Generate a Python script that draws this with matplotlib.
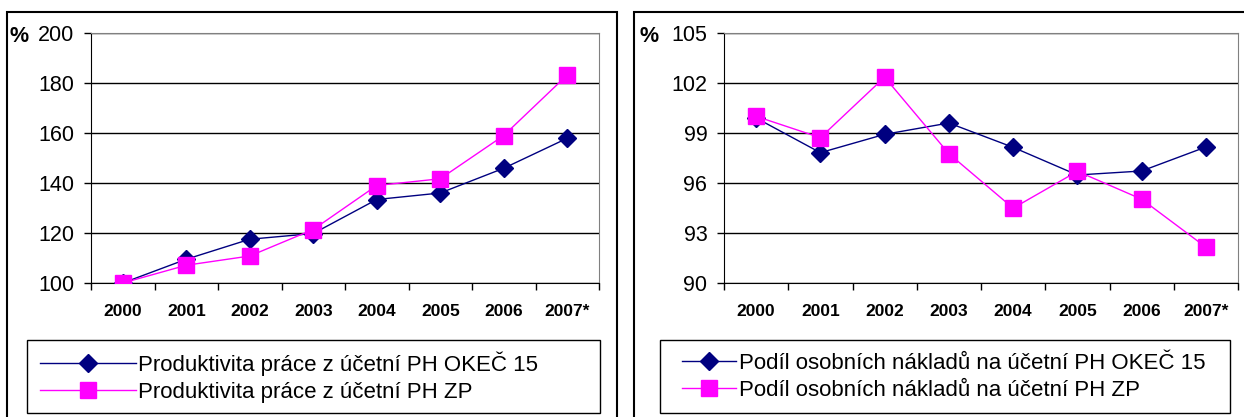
import matplotlib.pyplot as plt
from matplotlib.patches import Rectangle
from matplotlib.ticker import FixedLocator, NullFormatter

plt.rcParams['font.family'] = ['Liberation Sans', 'DejaVu Sans']

years = ['2000', '2001', '2002', '2003', '2004', '2005', '2006', '2007*']

# left chart - produktivita prace
prod_okec15 = [100, 109.5, 117.5, 119.8, 133.4, 136.0, 145.9, 157.9]
prod_zp = [100, 107.1, 110.8, 121.4, 139.0, 141.7, 159.0, 183.2]
prod_labels = ['Produktivita práce z účetní PH OKEČ 15',
               'Produktivita práce z účetní PH ZP']

# right chart - podil osobnich nakladu
podil_okec15 = [99.9, 97.82, 98.92, 99.6, 98.14, 96.48, 96.72, 98.16]
podil_zp = [100.0, 98.72, 102.35, 97.76, 94.49, 96.70, 95.03, 92.15]
podil_labels = ['Podíl osobních nákladů na účetní PH OKEČ 15',
                'Podíl osobních nákladů na účetní PH ZP']

W, H = 1244, 417
fig = plt.figure(figsize=(W / 100, H / 100), dpi=100)


def px_axes(x0, y0, x1, y1):
    return fig.add_axes([x0 / W, 1 - y1 / H, (x1 - x0) / W, (y1 - y0) / H])


def px_rect(x0, y0, x1, y1, lw):
    fig.patches.append(Rectangle((x0 / W, 1 - y1 / H), (x1 - x0) / W, (y1 - y0) / H,
                                 transform=fig.transFigure, fill=False,
                                 edgecolor='black', lw=lw))


def draw_panel(ax, s1, s2, labels, ylim, yticks, leg_x, handlelen, pct_x):
    x = list(range(len(years)))
    ax.plot(x, s1, color='#000080', lw=1, marker='D', ms=9,
            mfc='#000080', mec='#000080', label=labels[0], zorder=3)
    ax.plot(x, s2, color='#FF00FF', lw=1, marker='s', ms=11,
            mfc='#FF00FF', mec='#FF00FF', label=labels[1], zorder=4)
    ax.set_xlim(-0.5, len(years) - 0.5)
    ax.set_ylim(*ylim)
    ax.set_yticks(yticks)
    ax.yaxis.grid(True, color='black', lw=1)
    ax.set_axisbelow(True)
    for s in ['left', 'bottom']:
        ax.spines[s].set_color('black')
    for s in ['top', 'right']:
        ax.spines[s].set_color('#808080')
    ax.tick_params(axis='y', labelsize=15.5, length=5, width=1, pad=7)
    # category boundaries as ticks, labels centred on categories
    ax.xaxis.set_major_locator(FixedLocator([i - 0.5 for i in range(len(years) + 1)]))
    ax.xaxis.set_major_formatter(NullFormatter())
    ax.xaxis.set_minor_locator(FixedLocator(x))
    ax.set_xticklabels(years, minor=True, fontweight='bold', fontsize=12.5)
    ax.tick_params(axis='x', which='major', length=5, width=1)
    ax.tick_params(axis='x', which='minor', length=0, pad=15)
    ax.text(pct_x, 0.985, '%', transform=ax.transAxes, fontsize=15.5,
            fontweight='bold', va='center')
    leg = fig.legend(handles=ax.lines, loc='center left',
                     bbox_to_anchor=(leg_x / W, 1 - 377 / H),
                     bbox_transform=fig.transFigure, fontsize=16,
                     frameon=False, handlelength=handlelen, handletextpad=0.1,
                     labelspacing=0.25, borderpad=0, borderaxespad=0)
    return leg


ax1 = px_axes(91, 33, 599, 283)
ax2 = px_axes(724, 33, 1238, 283)

draw_panel(ax1, prod_okec15, prod_zp, prod_labels, (100, 200),
           [100, 120, 140, 160, 180, 200], 40, 4.3, -0.16)
draw_panel(ax2, podil_okec15, podil_zp, podil_labels, (90, 105),
           [90, 93, 96, 99, 102, 105], 682, 2.45, -0.165)

# legend boxes
px_rect(27, 340, 600, 413, 1)
px_rect(660, 340, 1230, 413, 1)

# outer chart frames
px_rect(7, 12, 617, 440, 1.5)
px_rect(634, 12, 1260, 440, 1.5)

fig.savefig('out.png', dpi=100)
